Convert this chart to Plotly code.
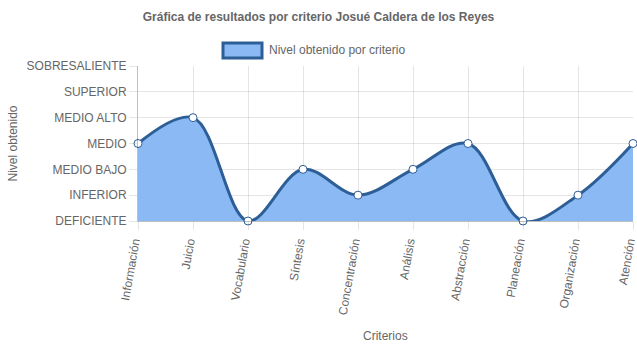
import plotly.graph_objects as go

criterios = ["Información", "Juicio", "Vocabulario", "Síntesis", "Concentración",
             "Análisis", "Abstracción", "Planeación", "Organización", "Atención"]
niveles = ["DEFICIENTE", "INFERIOR", "MEDIO BAJO", "MEDIO", "MEDIO ALTO", "SUPERIOR", "SOBRESALIENTE"]
valores = [3, 4, 0, 2, 1, 2, 3, 0, 1, 3]

x_idx = list(range(len(criterios)))
FILL = "#8ab9f4"
LINE = "#2d5e95"
GRID = "rgba(0,0,0,0.1)"
TXT = "#666666"
FONT = "Liberation Sans, Arial, sans-serif"

L, R, T, B = 138, 633, 66, 221
PW, PH = R - L, B - T

fig = go.Figure()
fig.add_trace(go.Scatter(
    x=x_idx, y=valores, mode="lines", fill="tozeroy", fillcolor=FILL,
    line=dict(color=LINE, width=3, shape="spline", smoothing=1.0),
    cliponaxis=True, showlegend=False, hoverinfo="skip"))
fig.add_trace(go.Scatter(
    x=x_idx, y=valores, mode="markers",
    marker=dict(size=8, color="white", line=dict(color=LINE, width=1)),
    cliponaxis=False, showlegend=False, name="Nivel obtenido por criterio"))

fig.update_layout(
    width=637, height=348,
    margin=dict(l=L, r=637 - R, t=T, b=348 - B),
    paper_bgcolor="white", plot_bgcolor="white",
    font=dict(family=FONT, size=12, color=TXT),
    title=dict(text="Gráfica de resultados por criterio Josué Caldera de los Reyes",
               x=0.5, xanchor="center", y=1 - 17 / 348, yanchor="middle",
               font=dict(family=FONT, size=12, color=TXT, weight="bold")),
    xaxis=dict(range=[0, len(criterios) - 1], tickmode="array", tickvals=x_idx,
               ticktext=criterios, tickangle=-80, showgrid=True, gridcolor=GRID,
               ticks="outside", ticklen=8, tickcolor=GRID, zeroline=False,
               showline=True, linecolor="rgba(0,0,0,0.25)", linewidth=1,
               ticklabeloverflow="allow", ticklabelshift=-4,
               tickfont=dict(family=FONT, size=12, color=TXT), automargin=False),
    yaxis=dict(range=[0, len(niveles) - 1], tickmode="array", tickvals=list(range(len(niveles))),
               ticktext=niveles, showgrid=True, gridcolor=GRID,
               ticks="outside", ticklen=8, tickcolor=GRID, zeroline=False,
               showline=True, linecolor="rgba(0,0,0,0.25)", linewidth=1,
               ticklabeloverflow="allow",
               tickfont=dict(family=FONT, size=12, color=TXT), automargin=False),
    shapes=[dict(type="rect", xref="paper", yref="paper",
                 x0=(223 - L) / PW, x1=(262 - L) / PW,
                 y0=(B - 58) / PH, y1=(B - 43) / PH,
                 fillcolor=FILL, line=dict(color=LINE, width=3))],
    annotations=[
        dict(text="Nivel obtenido por criterio", xref="paper", yref="paper",
             x=(267 - L) / PW, y=(B - 50) / PH, xanchor="left", yanchor="middle",
             showarrow=False, font=dict(family=FONT, size=12, color=TXT)),
        dict(text="Nivel obtenido", xref="paper", yref="paper",
             x=(12 - L) / PW, y=0.5, xanchor="center", yanchor="middle", textangle=-90,
             showarrow=False, font=dict(family=FONT, size=12, color=TXT)),
        dict(text="Criterios", xref="paper", yref="paper",
             x=0.5, y=(B - 336) / PH, xanchor="center", yanchor="middle",
             showarrow=False, font=dict(family=FONT, size=12, color=TXT)),
    ],
)

fig.write_html("out.html")
